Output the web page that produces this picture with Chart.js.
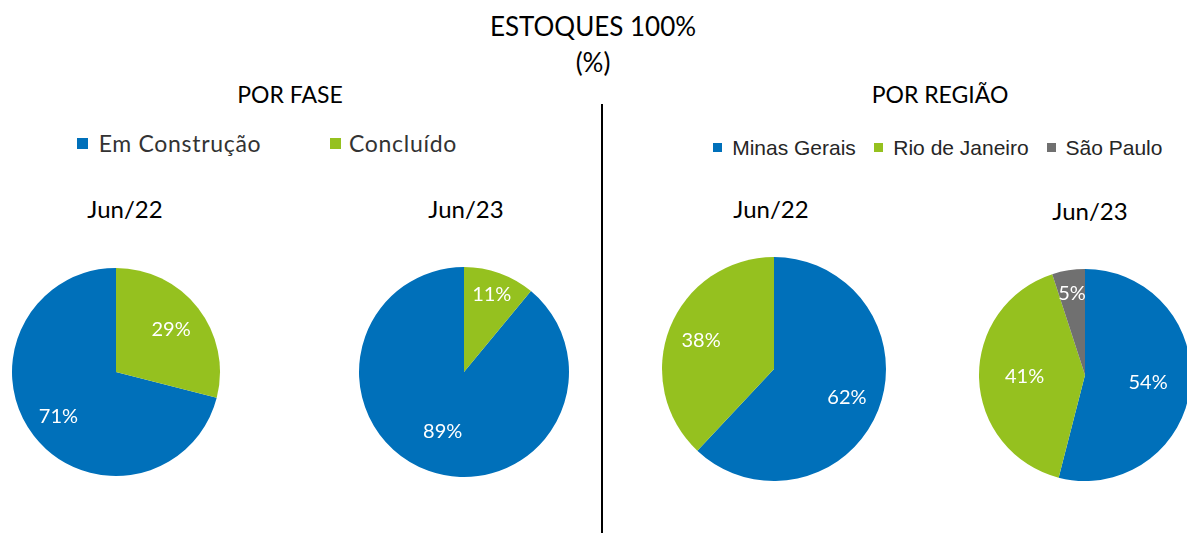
<!DOCTYPE html>
<html>
<head>
<meta charset="utf-8">
<script src="https://cdn.jsdelivr.net/npm/chart.js@4"></script>
<style>
  html, body { margin: 0; padding: 0; background: #fff; }
  body { width: 1187px; height: 533px; position: relative; overflow: hidden; }
  .txt { position: absolute; transform: translate(-50%, -50%); white-space: nowrap; color: #000; }
  .calibri { font-family: Lato, "Open Sans", sans-serif; }
  .arial { font-family: "Liberation Sans", Arial, sans-serif; }
  .sq { position: absolute; }
  canvas { position: absolute; }
  #divider { position: absolute; left: 601px; top: 104px; width: 1.5px; height: 429px; background: #000; }
</style>
</head>
<body>
<div class="txt calibri" style="left:593px; top:26px; font-size:26px;">ESTOQUES 100%</div>
<div class="txt calibri" style="left:593px; top:62px; font-size:26px;">(%)</div>
<div class="txt calibri" style="left:290px; top:94px; font-size:23px;">POR FASE</div>
<div class="txt calibri" style="left:940px; top:94px; font-size:23px;">POR REGIÃO</div>
<div id="divider"></div>

<!-- legend: por fase -->
<div class="sq" style="left:77px; top:138px; width:11px; height:11px; background:#0070BA;"></div>
<div class="txt calibri" style="left:180px; top:143px; font-size:23px; color:#333; letter-spacing:0.7px;">Em Construção</div>
<div class="sq" style="left:330px; top:138px; width:11px; height:11px; background:#95C11F;"></div>
<div class="txt calibri" style="left:403px; top:143px; font-size:23px; color:#333; letter-spacing:0.7px;">Concluído</div>

<!-- legend: por regiao -->
<div class="sq" style="left:713px; top:143px; width:9px; height:9px; background:#0070BA;"></div>
<div class="txt arial" style="left:794px; top:148px; font-size:21px; color:#262626;">Minas Gerais</div>
<div class="sq" style="left:874px; top:143px; width:9px; height:9px; background:#95C11F;"></div>
<div class="txt arial" style="left:961px; top:148px; font-size:21px; color:#262626;">Rio de Janeiro</div>
<div class="sq" style="left:1047px; top:143px; width:9px; height:9px; background:#707070;"></div>
<div class="txt arial" style="left:1114px; top:148px; font-size:21px; color:#262626;">São Paulo</div>

<div class="txt calibri" style="left:125px; top:208px; font-size:24px;">Jun/22</div>
<div class="txt calibri" style="left:466px; top:208px; font-size:24px;">Jun/23</div>
<div class="txt calibri" style="left:771px; top:208px; font-size:24px;">Jun/22</div>
<div class="txt calibri" style="left:1090px; top:210px; font-size:24px;">Jun/23</div>

<canvas id="pie1"></canvas>
<canvas id="pie2"></canvas>
<canvas id="pie3"></canvas>
<canvas id="pie4"></canvas>

<script>
// data
const faseLabels = ['Em Construção', 'Concluído'];
const faseJun22 = [71, 29];
const faseJun23 = [89, 11];

const regiaoLabels = ['Minas Gerais', 'Rio de Janeiro', 'São Paulo'];
const regiaoJun22 = [62, 38];
const regiaoJun23 = [54, 41, 5];

const colors = ['#0070BA', '#95C11F', '#707070'];

// labels in white inside the slices
const sliceLabels = {
    id: 'sliceLabels',
    afterDatasetsDraw(chart, args, opts) {
        const ctx = chart.ctx;
        const meta = chart.getDatasetMeta(0);
        const values = chart.data.datasets[0].data;
        ctx.save();
        ctx.fillStyle = '#fff';
        ctx.font = '20px Lato, "Open Sans", sans-serif';
        ctx.textAlign = 'center';
        ctx.textBaseline = 'middle';
        meta.data.forEach((arc, i) => {
            const mid = (arc.startAngle + arc.endAngle) / 2;
            const f = opts.dist[i];
            const x = arc.x + Math.cos(mid) * arc.outerRadius * f;
            const y = arc.y + Math.sin(mid) * arc.outerRadius * f;
            ctx.fillText(values[i] + '%', x, y);
        });
        ctx.restore();
    }
};

function makePie(id, cx, cy, r, labels, values, rotation, dist) {
    const pad = 2;
    const canvas = document.getElementById(id);
    const size = 2 * r + 2 * pad;
    canvas.width = size;
    canvas.height = size;
    canvas.style.left = (cx - r - pad) + 'px';
    canvas.style.top = (cy - r - pad) + 'px';
    canvas.style.width = size + 'px';
    canvas.style.height = size + 'px';
    return new Chart(canvas.getContext('2d'), {
        type: 'pie',
        data: {
            labels: labels,
            datasets: [{
                data: values,
                backgroundColor: colors.slice(0, values.length),
                borderWidth: 0
            }]
        },
        options: {
            responsive: false,
            animation: false,
            rotation: rotation,
            layout: { padding: pad },
            plugins: {
                legend: { display: false },
                tooltip: { enabled: false },
                sliceLabels: { dist: dist }
            }
        },
        plugins: [sliceLabels]
    });
}

// first slice (blue) starts after the green one, which sits at 12 o'clock
const pie1 = makePie('pie1', 116, 372, 104, faseLabels, faseJun22, faseJun22[1] * 3.6, [0.7, 0.67]);
const pie2 = makePie('pie2', 464, 372, 105, faseLabels, faseJun23, faseJun23[1] * 3.6, [0.6, 0.78]);
const pie3 = makePie('pie3', 774, 369, 112, regiaoLabels.slice(0, 2), regiaoJun22, 0, [0.7, 0.7]);
const pie4 = makePie('pie4', 1085, 375, 106, regiaoLabels, regiaoJun23, 0, [0.6, 0.57, 0.78]);
</script>
</body>
</html>
